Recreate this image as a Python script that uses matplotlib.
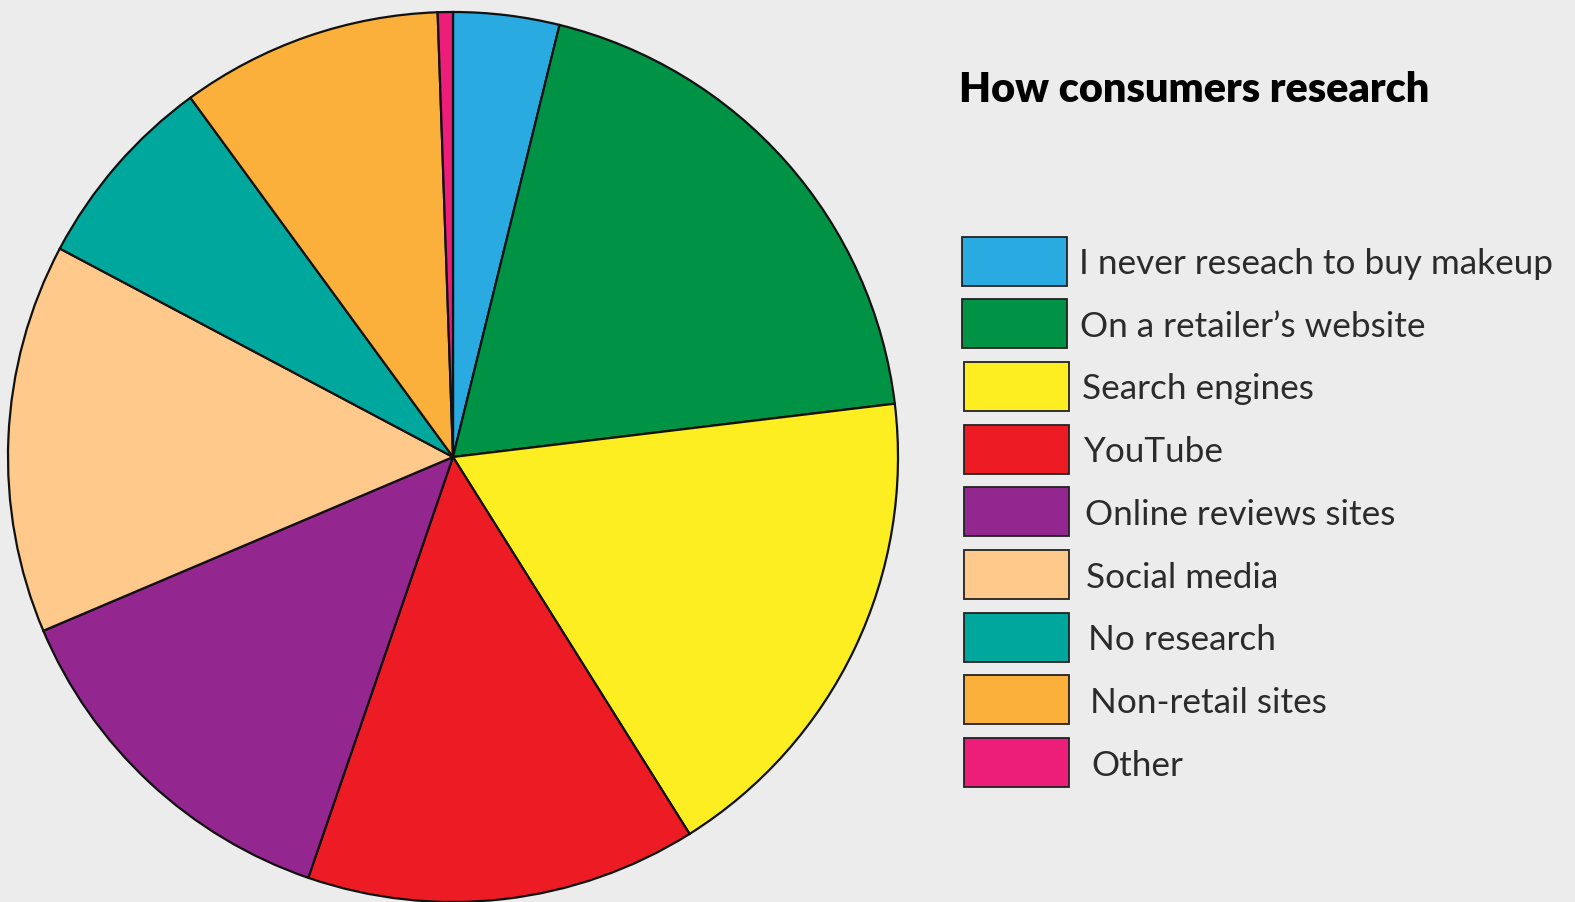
import matplotlib
matplotlib.use('Agg')
import matplotlib.pyplot as plt
from matplotlib.patches import Rectangle
from matplotlib import font_manager

labels = ['I never reseach to buy makeup', "On a retailer\u2019s website", 'Search engines',
          'YouTube', 'Online reviews sites', 'Social media', 'No research',
          'Non-retail sites', 'Other']
shares = [3.85, 19.25, 18.0, 14.2, 13.35, 14.15, 7.2, 9.5, 0.55]
colors = ['#29abe2', '#009245', '#fcee21', '#ed1c24', '#93278f',
          '#ffc98b', '#00a79d', '#fbb03b', '#ed1e79']
title = 'How consumers research'

W, H = 1575, 902
bg = '#ececec'

fig = plt.figure(figsize=(W / 100, H / 100), dpi=100, facecolor=bg)
ax = fig.add_axes([0, 0, 1, 1])
ax.set_facecolor(bg)

# pie in pixel units, y measured from the bottom
ax.pie(shares, colors=colors, startangle=90, counterclock=False,
       center=(453, H - 457), radius=445,
       wedgeprops=dict(edgecolor='#111111', linewidth=1.6))
ax.set_xlim(0, W)
ax.set_ylim(0, H)
ax.set_aspect('equal')
ax.axis('off')

avail = {f.name for f in font_manager.fontManager.ttflist}
fam = 'Lato' if 'Lato' in avail else 'DejaVu Sans'
renderer = fig.canvas.get_renderer()


def fit(txt, width):
    # scale the font so the string spans the given pixel width
    w = txt.get_window_extent(renderer).width
    txt.set_fontsize(txt.get_fontsize() * width / w)


t = ax.text(959, H - 90, title, fontsize=26, fontweight='heavy', family=fam,
            color='black', ha='left', va='center')
t.set_path_effects([])
fit(t, 472)

# legend swatches and labels
row0, step = 261, 62.7
texts = []
for i, (lab, c) in enumerate(zip(labels, colors)):
    cy = row0 + i * step
    x0 = 962 + (2 if i >= 2 else 0)
    ax.add_patch(Rectangle((x0, H - cy - 24.5), 105, 49, facecolor=c,
                           edgecolor='#222222', linewidth=1.3))
    texts.append(ax.text(1079 + i * 1.5, H - cy - 3, lab, fontsize=22,
                         family=fam, color='#2b2b2b', ha='left', va='center'))

w0 = texts[0].get_window_extent(renderer).width
size = 22 * 472 / w0
for tx in texts:
    tx.set_fontsize(size)

fig.savefig('out.png', dpi=100, facecolor=bg)
